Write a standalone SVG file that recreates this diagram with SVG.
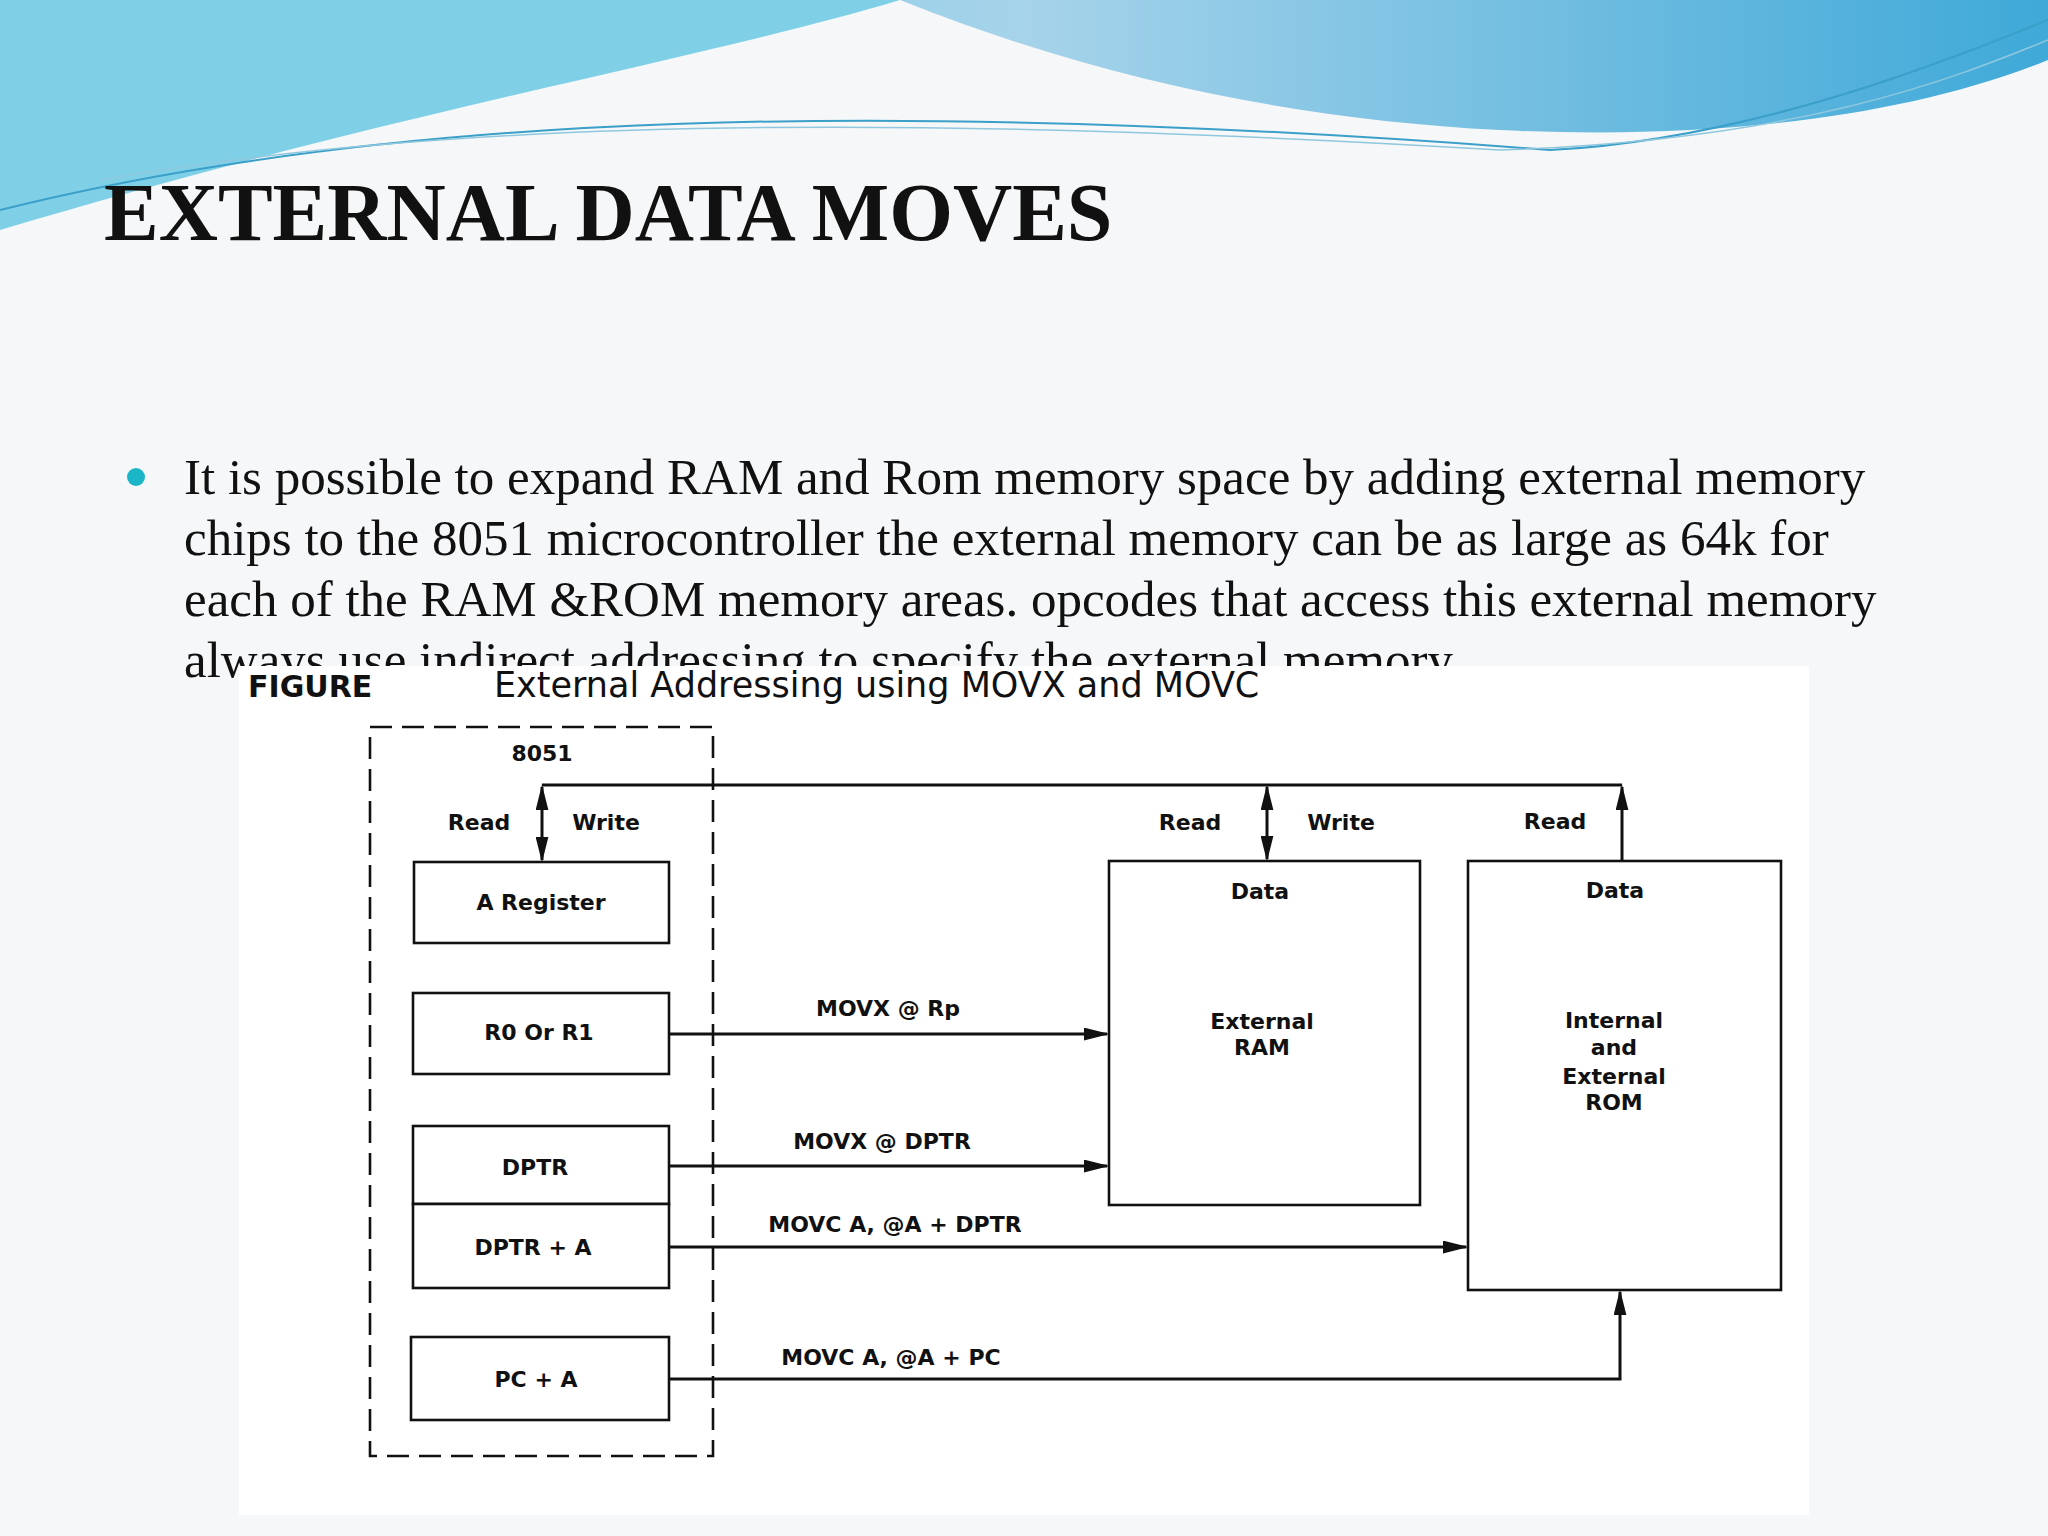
<svg xmlns="http://www.w3.org/2000/svg" width="2048" height="1536" viewBox="0 0 2048 1536">
<defs>
<linearGradient id="sky" x1="0" y1="0" x2="1" y2="0"><stop offset="0" stop-color="#5fc6e0"/><stop offset="0.5" stop-color="#a6d3ea"/><stop offset="1" stop-color="#3fa9d8"/></linearGradient>
<marker id="ah" viewBox="0 0 10 10" refX="9" refY="5" markerWidth="26" markerHeight="13" markerUnits="userSpaceOnUse" orient="auto-start-reverse" preserveAspectRatio="none"><path d="M0,0 L10,5 L0,10 z" fill="#111"/></marker>
<style>
.bx{fill:#fff;stroke:#111;stroke-width:2.6}
.ln{fill:none;stroke:#111;stroke-width:3}
.t{font-family:"DejaVu Sans",sans-serif;font-size:22px;fill:#111;text-anchor:middle;font-weight:bold}
.b{font-family:"Liberation Serif",serif;font-size:51px;fill:#111}
</style>
</defs>
<rect width="2048" height="1536" fill="#f6f7f8"/>
<path d="M0,0 H2048 V60 C1900,120 1700,140 1500,130 C1300,120 1100,80 900,0 Z" fill="url(#sky)"/>
<path d="M0,0 H900 C700,60 400,110 0,230 Z" fill="#7fd0e6"/>
<path d="M0,210 C400,110 900,100 1550,150 C1750,140 1950,60 2048,20" fill="none" stroke="#3a9fc9" stroke-width="2"/>
<path d="M100,180 C500,110 1000,120 1500,150 C1800,140 1950,80 2048,40" fill="none" stroke="#8fc8de" stroke-width="1.5"/>
<text x="104" y="240" font-family="Liberation Serif,serif" font-weight="bold" font-size="82" fill="#111">EXTERNAL DATA MOVES</text>
<circle cx="136" cy="477" r="9" fill="#1ab6c8"/>
<text class="b" x="184" y="494">It is possible to expand RAM and Rom memory space by adding external memory</text>
<text class="b" x="184" y="555">chips to the 8051 microcontroller the external memory can be as large as 64k for</text>
<text class="b" x="184" y="616">each of the RAM &amp;ROM memory areas. opcodes that access this external memory</text>
<text class="b" x="184" y="677">always use indirect addressing to specify the external memory.</text>
<rect x="239" y="666" width="1570" height="849" fill="#fff"/>
<text x="248" y="697" font-family="DejaVu Sans,sans-serif" font-weight="bold" font-size="30" fill="#111">FIGURE</text>
<text x="494" y="697" font-family="DejaVu Sans,sans-serif" font-size="35" fill="#111">External Addressing using MOVX and MOVC</text>
<g id="chip8051"><rect x="370" y="727" width="343" height="729" fill="none" stroke="#111" stroke-width="2.6" stroke-dasharray="22,10"/><text class="t" x="542" y="761">8051</text></g>
<g id="areg"><rect class="bx" x="414" y="862" width="255" height="81"/><text class="t" x="541" y="910">A Register</text></g>
<g id="r0r1"><rect class="bx" x="413" y="993" width="256" height="81"/><text class="t" x="539" y="1040">R0 Or R1</text></g>
<g id="dptr"><rect class="bx" x="413" y="1126" width="256" height="78"/><text class="t" x="535" y="1175">DPTR</text></g>
<g id="dptra"><rect class="bx" x="413" y="1204" width="256" height="84"/><text class="t" x="533" y="1255">DPTR + A</text></g>
<g id="pca"><rect class="bx" x="411" y="1337" width="258" height="83"/><text class="t" x="536" y="1387">PC + A</text></g>
<g id="extram"><rect class="bx" x="1109" y="861" width="311" height="344"/><text class="t" x="1260" y="899">Data</text><text class="t" x="1262" y="1029">External</text><text class="t" x="1262" y="1055">RAM</text></g>
<g id="rom"><rect class="bx" x="1468" y="861" width="313" height="429"/><text class="t" x="1615" y="898">Data</text><text class="t" x="1614" y="1028">Internal</text><text class="t" x="1614" y="1055">and</text><text class="t" x="1614" y="1084">External</text><text class="t" x="1614" y="1110">ROM</text></g>
<g id="connectors">
<path class="ln" d="M542,785 H1622"/>
<path class="ln" d="M542,787 V860" marker-start="url(#ah)" marker-end="url(#ah)"/>
<path class="ln" d="M1267,787 V859" marker-start="url(#ah)" marker-end="url(#ah)"/>
<path class="ln" d="M1622,861 V787" marker-end="url(#ah)"/>
<path class="ln" d="M669,1034 H1107" marker-end="url(#ah)"/>
<path class="ln" d="M669,1166 H1107" marker-end="url(#ah)"/>
<path class="ln" d="M669,1247 H1466" marker-end="url(#ah)"/>
<path class="ln" d="M669,1379 H1620 V1292" marker-end="url(#ah)"/>
</g>
<g id="labels">
<text class="t" x="479" y="830">Read</text><text class="t" x="606" y="830">Write</text>
<text class="t" x="1190" y="830">Read</text><text class="t" x="1341" y="830">Write</text>
<text class="t" x="1555" y="829">Read</text>
<text class="t" x="888" y="1016">MOVX @ Rp</text>
<text class="t" x="882" y="1149">MOVX @ DPTR</text>
<text class="t" x="895" y="1232">MOVC A, @A + DPTR</text>
<text class="t" x="891" y="1365">MOVC A, @A + PC</text>
</g>
</svg>
